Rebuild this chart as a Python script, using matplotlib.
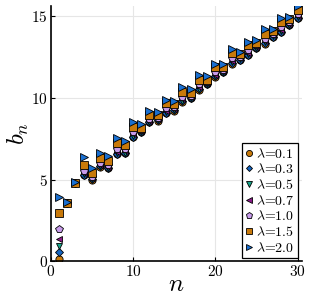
import numpy as np
import matplotlib
matplotlib.use("Agg")
from matplotlib import pyplot

pyplot.rcParams['font.family'] = 'serif'
pyplot.rcParams['font.serif'] = ['cmr10']
pyplot.rcParams['mathtext.fontset'] = 'cm'
pyplot.rcParams['axes.formatter.use_mathtext'] = True

n = np.arange(1, 31)
lambdas = ['0.1', '0.3', '0.5', '0.7', '1.0', '1.5', '2.0']

b_01 = [0.17, 3.54, 4.77, 5.26, 5.00, 5.78, 5.68, 6.54, 6.60, 7.60,
        7.88, 8.49, 8.60, 9.04, 9.20, 9.75, 9.95, 10.46, 10.80, 11.27,
        11.55, 12.08, 12.29, 12.60, 13.00, 13.30, 13.70, 14.00, 14.40, 14.83]
b_03 = [0.56, 3.54, 4.78, 5.29, 5.01, 5.80, 5.70, 6.56, 6.62, 7.62,
        7.89, 8.51, 8.62, 9.06, 9.22, 9.77, 9.96, 10.50, 10.82, 11.29,
        11.56, 12.10, 12.31, 12.62, 13.02, 13.32, 13.72, 14.02, 14.42, 14.85]
b_05 = [0.96, 3.55, 4.78, 5.33, 5.03, 5.82, 5.72, 6.60, 6.65, 7.66,
        7.91, 8.54, 8.64, 9.10, 9.25, 9.82, 9.98, 10.55, 10.84, 11.33,
        11.58, 12.15, 12.35, 12.67, 13.05, 13.37, 13.75, 14.07, 14.45, 14.90]
b_07 = [1.37, 3.55, 4.78, 5.40, 5.07, 5.88, 5.78, 6.68, 6.72, 7.75,
        7.94, 8.60, 8.68, 9.20, 9.30, 9.90, 10.02, 10.65, 10.88, 11.40,
        11.62, 12.25, 12.40, 12.75, 13.10, 13.45, 13.80, 14.15, 14.50, 14.98]
b_10 = [1.96, 3.56, 4.79, 5.54, 5.15, 6.00, 5.90, 6.85, 6.85, 7.90,
        8.00, 8.70, 8.75, 9.35, 9.40, 10.05, 10.10, 10.80, 10.95, 11.55,
        11.70, 12.40, 12.48, 12.90, 13.20, 13.60, 13.90, 14.30, 14.60, 15.10]
b_15 = [2.98, 3.58, 4.80, 5.88, 5.41, 6.29, 6.15, 7.24, 7.10, 8.22,
        8.16, 8.93, 8.92, 9.65, 9.60, 10.35, 10.26, 11.07, 11.10, 11.84,
        11.88, 12.70, 12.65, 13.20, 13.35, 13.90, 14.07, 14.62, 14.77, 15.33]
b_20 = [3.95, 3.60, 4.82, 6.35, 5.68, 6.63, 6.43, 7.55, 7.35, 8.52,
        8.36, 9.20, 9.12, 9.85, 9.78, 10.66, 10.50, 11.37, 11.31, 12.08,
        12.08, 12.95, 12.80, 13.40, 13.50, 14.16, 14.20, 14.83, 14.90, 15.58]

series = [b_01, b_03, b_05, b_07, b_10, b_15, b_20]
markers = ['o', 'D', 'v', '<', 'p', 's', '>']
sizes = [5.2, 3.6, 5, 5, 5.4, 5.6, 5.6]
colors = ['#c8790a', '#1565c0', '#17a58a', '#8b1a89', '#c89beb', '#c8790a', '#1a6fd0']

fig = pyplot.figure(figsize=(3.11, 2.98), dpi=100)
ax = fig.add_axes([0.163, 0.1225, 0.807, 0.858])

for lam, b, m, ms, c in zip(lambdas, series, markers, sizes, colors):
    ax.plot(n, b, ls='none', marker=m, ms=ms, mfc=c, mec='black', mew=0.6,
            label=r'$\lambda$=' + lam)

ax.set_xlim(0, 30.5)
ax.set_ylim(0, 15.6)
ax.set_xticks([0, 10, 20, 30])
ax.set_yticks([0, 5, 10, 15])
ax.grid(True, color='#e6e6e6', lw=0.8)
ax.set_axisbelow(True)
for s in ['top', 'right']:
    ax.spines[s].set_visible(False)
for s in ['left', 'bottom']:
    ax.spines[s].set_linewidth(1.2)
ax.tick_params(direction='in', length=3, width=0.8, labelsize=11, pad=2)

ax.set_xlabel('$n$', fontsize=18, labelpad=-4)
ax.set_ylabel('$b_n$', fontsize=18, labelpad=0)

leg = ax.legend(loc='lower right', fontsize=10, frameon=True, fancybox=False,
                edgecolor='black', framealpha=1, handlelength=0.6, handletextpad=0.2,
                borderpad=0.25, labelspacing=0.12, borderaxespad=0.25, markerscale=0.85)
leg.get_frame().set_linewidth(0.9)

fig.savefig('out.png', dpi=100)
